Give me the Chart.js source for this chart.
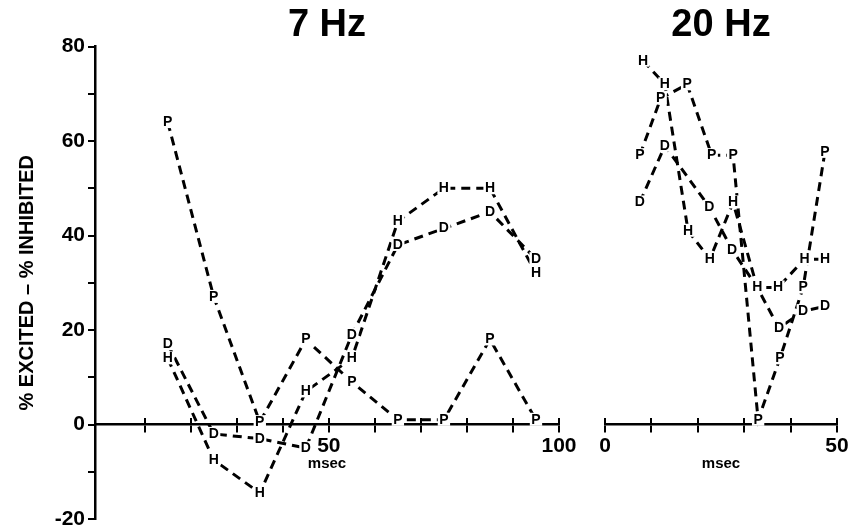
<!DOCTYPE html>
<html><head><meta charset="utf-8">
<script src="https://cdn.jsdelivr.net/npm/chart.js@4/dist/chart.umd.min.js"></script>
<style>
html,body{margin:0;padding:0;background:#fff;width:855px;height:527px;overflow:hidden;position:relative}
canvas{position:absolute;top:0}
#c7{left:0}
#c20{left:580px}
</style></head><body>
<canvas id="c7" width="600" height="527"></canvas>
<canvas id="c20" width="275" height="527"></canvas>
<script>
// ---- text ----
const panelTitles = ['7 Hz', '20 Hz'];
const yAxisTitle = '% EXCITED \u2013 % INHIBITED';
const xAxisTitle = 'msec';
const seriesLetters = ['D', 'H', 'P'];
const yTickLabels = [-20, 0, 20, 40, 60, 80];
const x7Ticks = [10, 20, 30, 40, 50, 60, 70, 80, 90, 100];
const x7TickLabels = [50, 100];
const x20Ticks = [0, 10, 20, 30, 40, 50];
const x20TickLabels = [0, 50];

// ---- 7 Hz data (msec, % excited - % inhibited) ----
const msec7 = [15, 25, 35, 45, 55, 65, 75, 85, 95];
const d7 = [17, -2, -3, -5, 19, 38, 41.5, 45, 35];
const h7 = [14, -7.5, -14.5, 7, 14, 43, 50, 50, 32];
const p7 = [64, 27, 0.5, 18, 9, 1, 1, 18, 1];

// ---- 20 Hz data ----
const msec20D = [7.5, 12.9, 22.5, 27.4, 32.8, 37.5, 42.7, 47.4];
const d20 = [47, 59, 46, 37, 29, 20.4, 24, 25];
const msec20H = [8.2, 12.9, 17.9, 22.6, 27.6, 32.8, 37.3, 43, 47.4];
const h20 = [77, 72, 41, 35, 47, 29, 29, 35, 35];
const msec20P = [7.5, 12, 17.7, 23, 27.6, 33, 37.7, 42.7, 47.4];
const p20 = [57, 69, 72, 57, 57, 1, 14, 29, 57.7];

const FONT = '"Liberation Sans", Arial, Helvetica, sans-serif';
Chart.defaults.font.family = FONT;
Chart.defaults.color = '#000';

const pts = (xs, ys) => xs.map((x, i) => ({x: x, y: ys[i]}));
const series = (label, xs, ys) => ({
  label: label, data: pts(xs, ys), showLine: true,
  borderColor: '#000', borderWidth: 3, borderDash: [9, 6],
  pointRadius: 0, pointHoverRadius: 0, tension: 0, fill: false
});

const letterPlugin = {
  id: 'letters',
  afterDatasetsDraw(chart) {
    const ctx = chart.ctx;
    ctx.save();
    ctx.font = 'bold 14px ' + FONT;
    ctx.textAlign = 'center';
    ctx.textBaseline = 'middle';
    chart.data.datasets.forEach((ds, i) => {
      const meta = chart.getDatasetMeta(i);
      meta.data.forEach(pt => {
        const w = ctx.measureText(ds.label).width + 3;
        ctx.fillStyle = '#fff';
        ctx.fillRect(pt.x - w / 2, pt.y - 7, w, 13);
        ctx.fillStyle = '#000';
        ctx.fillText(ds.label, pt.x, pt.y);
      });
    });
    ctx.restore();
  }
};

function xScales(min, max, tickList, labelList) {
  const common = {
    type: 'linear', min: min, max: max, position: {y: 0}, z: 1,
    afterBuildTicks(s) { s.ticks = tickList.map(v => ({value: v})); },
    afterFit(s) { s.height = 0; }
  };
  return {
    x: Object.assign({}, common, {
      border: {display: true, width: 2.5, color: '#000'},
      grid: {drawOnChartArea: false, drawTicks: true, tickLength: 7, color: '#000', lineWidth: 2},
      ticks: {autoSkip: false, maxRotation: 0, padding: 2, color: '#000',
        font: {size: 21, weight: 'bold'},
        callback: v => labelList.includes(v) ? String(v) : ''},
      title: {display: true, text: xAxisTitle, color: '#000',
        font: {size: 15, weight: 'bold'}, padding: {top: 0, bottom: -48.5}}
    }),
    xUp: Object.assign({}, common, {
      axis: 'x',
      border: {display: false},
      grid: {drawOnChartArea: false, drawTicks: true, tickLength: -7, color: '#000', lineWidth: 2},
      ticks: {display: false},
      title: {display: false}
    })
  };
}

function makeChart(id, title, datasets, xs, showY, pad) {
  const scales = Object.assign({
    y: {
      type: 'linear', min: -20, max: 80, display: showY,
      afterFit(s) { if (showY) { s.width = 95; } s.paddingTop = 0; s.paddingBottom = 0; },
      border: {display: true, width: 2.5, color: '#000'},
      grid: {drawOnChartArea: false, drawTicks: true, tickLength: 7, color: '#000', lineWidth: 2},
      ticks: {stepSize: 10, autoSkip: false, padding: 3, color: '#000',
        font: {size: 21, weight: 'bold'},
        callback: v => yTickLabels.includes(v) ? String(v) : ''},
      title: {display: true, text: yAxisTitle, color: '#000',
        font: {size: 20, weight: 'bold'}, padding: {top: 15, bottom: 0}}
    }
  }, xs);
  return new Chart(document.getElementById(id), {
    type: 'scatter',
    data: {datasets: datasets},
    options: {
      responsive: false, animation: false, events: [],
      layout: {padding: pad},
      scales: scales,
      plugins: {
        legend: {display: false}, tooltip: {enabled: false},
        title: {display: true, text: title, fullSize: false, color: '#000',
          font: {size: 38, weight: 'bold', lineHeight: 1.1}, padding: {top: 4.7, bottom: 0}}
      }
    },
    plugins: [letterPlugin]
  });
}

makeChart('c7', panelTitles[0], [
  series(seriesLetters[0], msec7, d7),
  series(seriesLetters[1], msec7, h7),
  series(seriesLetters[2], msec7, p7)
], xScales(-0.8, 100, x7Ticks, x7TickLabels), true, {left: 0, right: 41, top: 0, bottom: 8});

makeChart('c20', panelTitles[1], [
  series(seriesLetters[0], msec20D, d20),
  series(seriesLetters[2], msec20P, p20),
  series(seriesLetters[1], msec20H, h20)
], xScales(0, 50, x20Ticks, x20TickLabels), false, {left: 25, right: 18, top: 0, bottom: 8});
</script>
</body></html>
